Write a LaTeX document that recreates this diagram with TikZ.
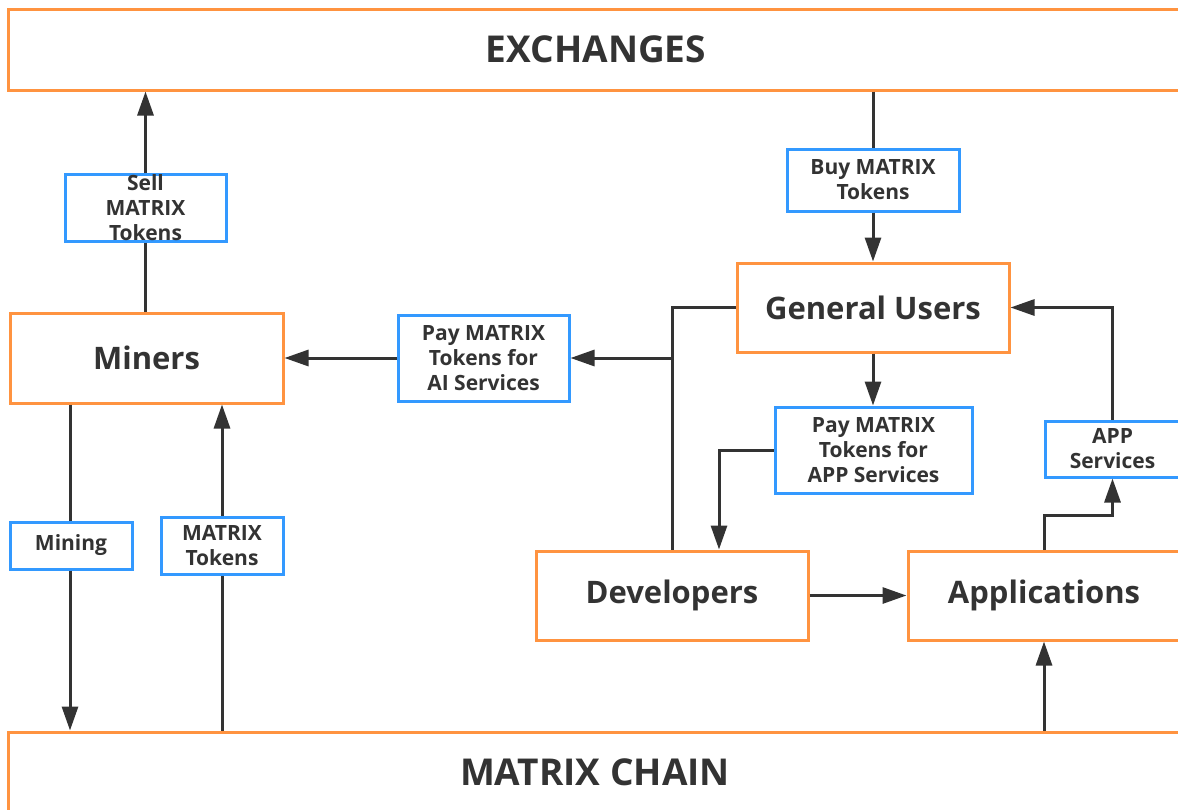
\documentclass[tikz,border=0pt]{standalone}
\usepackage{fontspec}
\setmainfont{Open Sans}
\usetikzlibrary{arrows.meta}
\definecolor{org}{HTML}{FF9340}
\definecolor{blu}{HTML}{3399FF}
\definecolor{ink}{HTML}{333333}
\begin{document}
\begin{tikzpicture}[x=1pt,y=-1pt,
 big/.style={draw=org, line width=3pt, fill=white, inner sep=0pt, font=\fontsize{37}{44}\selectfont\bfseries, text=ink},
 ent/.style={draw=org, line width=3pt, fill=white, inner sep=0pt, font=\fontsize{31}{37}\selectfont\bfseries, text=ink},
 lbl/.style={draw=blu, line width=3pt, fill=white, inner sep=0pt, align=center, font=\fontsize{21}{25}\selectfont\bfseries, text=ink},
 arr/.style={draw=ink, line width=3pt, -{Triangle[length=24pt,width=16pt]}},
 ln/.style={draw=ink, line width=3pt},
]
\useasboundingbox (0,0) rectangle (1178,809);
\clip (0,0) rectangle (1178,809);
\fill[white] (0,0) rectangle (1178,809);

\node[big, minimum width=1176pt, minimum height=81pt] (exch) at (596,49.5) {EXCHANGES};
\node[big, minimum width=1174pt, minimum height=80pt] (chain) at (595,772) {MATRIX CHAIN};

\node[ent, minimum width=273pt, minimum height=90pt] (miners) at (146.5,358) {Miners};
\node[ent, minimum width=272pt, minimum height=89pt] (gu) at (873,307.5) {General Users};
\node[ent, minimum width=272pt, minimum height=89pt] (dev) at (672,595.5) {Developers};
\node[ent, minimum width=272pt, minimum height=89pt] (app) at (1044,595.5) {Applications};

\node[lbl, minimum width=161pt, minimum height=62pt] (sell) at (145.5,208) {Sell\\MATRIX\\Tokens};
\node[lbl, minimum width=172pt, minimum height=62pt] (buy) at (873,180) {Buy MATRIX\\Tokens};
\node[lbl, minimum width=171pt, minimum height=86pt] (ai) at (483.5,358) {Pay MATRIX\\Tokens for\\AI Services};
\node[lbl, minimum width=197pt, minimum height=86pt] (pay) at (873.5,450) {Pay MATRIX\\Tokens for\\APP Services};
\node[lbl, minimum width=135pt, minimum height=56pt] (apps) at (1112.5,449) {APP\\Services};
\node[lbl, minimum width=122pt, minimum height=47pt] (mining) at (71,545.5) {Mining};
\node[lbl, minimum width=122pt, minimum height=57pt] (tok) at (222,545.5) {MATRIX\\Tokens};

\coordinate (k) at (719,0);
\coordinate (m) at (0,515);
\coordinate (p) at (70,0);

\draw[ln] (sell.south) -- (sell.south |- miners.north);
\draw[arr] (sell.north) -- (sell.north |- exch.south);
\draw[ln] (exch.south -| buy.north) -- (buy.north);
\draw[arr] (buy.south) -- (gu.north);
\draw[ln] (gu.west) -- (gu.west -| dev.north) -- (dev.north);
\coordinate (j2) at (dev.north |- ai.east);
\draw[arr] (j2) -- (ai.east);
\draw[arr] (ai.west) -- (miners.east);
\draw[arr] (gu.south) -- (gu.south |- pay.north);
\draw[arr] (pay.west) -- (pay.west -| k) -- (dev.north -| k);
\draw[arr] (dev.east) -- (app.west);
\draw[arr] (app.north) -- (app.north |- m) -- (apps.south |- m) -- (apps.south);
\draw[arr] (apps.north) -- (apps.north |- gu.east) -- (gu.east);
\draw[ln] (miners.south -| p) -- (mining.north -| p);
\draw[arr] (mining.south -| p) -- (chain.north -| p);
\draw[ln] (chain.north -| tok.south) -- (tok.south);
\draw[arr] (tok.north) -- (tok.north |- miners.south);
\draw[arr] (chain.north -| app.north) -- (app.south);
\end{tikzpicture}
\end{document}
